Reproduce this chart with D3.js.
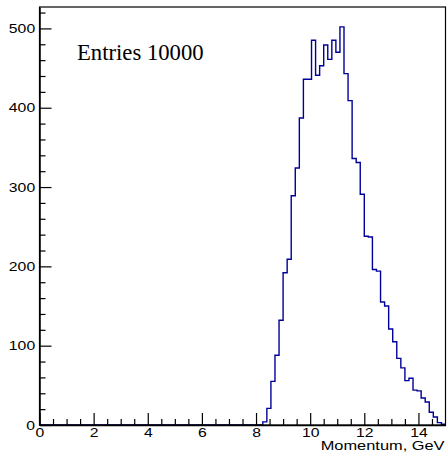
<!DOCTYPE html>
<html>
<head>
<meta charset="utf-8">
<script src="https://cdn.jsdelivr.net/npm/d3@7"></script>
<style>
body { margin: 0; background: #fff; }
svg { display: block; }
</style>
</head>
<body>
<script>
// histogram: 100 bins from 0 to 15 GeV
const xMin = 0
const xMax = 15
const binWidth = 0.15
const counts = [
    0, 0, 0, 0, 0, 0, 0, 0, 0, 0,
    0, 0, 0, 0, 0, 0, 0, 0, 0, 0,
    0, 0, 0, 0, 0, 0, 0, 0, 0, 0,
    0, 0, 0, 0, 0, 0, 0, 0, 0, 0,
    0, 0, 0, 0, 0, 0, 0, 0, 0, 0,
    0, 0, 0, 0, 0, 4, 21, 55, 88, 132,
    192, 209, 289, 324, 387, 436, 436, 485, 441, 453,
    479, 461, 485, 470, 502, 443, 409, 336, 331, 291,
    238, 237, 196, 194, 155, 150, 121, 105, 84, 72,
    56, 59, 44, 43, 34, 29, 16, 10, 3, 1
]
const yMax = 527
const xMajorTicks = [0, 2, 4, 6, 8, 10, 12, 14]
const yMajorTicks = [0, 100, 200, 300, 400, 500]
const entriesLabel = 'Entries 10000'
const xTitle = 'Momentum, GeV'

const width = 448, height = 463
const frame = { left: 39.5, right: 445.5, top: 7, bottom: 425 }

const svg = d3.select('body').append('svg')
    .attr('width', width)
    .attr('height', height)

svg.append('rect')
    .attr('width', width)
    .attr('height', height)
    .attr('fill', '#fff')

const x = d3.scaleLinear().domain([xMin, xMax]).range([frame.left, frame.right])
const y = d3.scaleLinear().domain([0, yMax]).range([frame.bottom, frame.top])

// histogram outline
const points = counts.map((c, i) => [xMin + i * binWidth, c])
points.push([xMax, counts[counts.length - 1]])

const line = d3.line()
    .x(d => x(d[0]))
    .y(d => y(d[1]))
    .curve(d3.curveStepAfter)

svg.append('path')
    .attr('d', line(points))
    .attr('fill', 'none')
    .attr('stroke', '#000099')
    .attr('stroke-width', 1.4)

// frame
svg.append('rect')
    .attr('x', frame.left)
    .attr('y', frame.top)
    .attr('width', frame.right - frame.left)
    .attr('height', frame.bottom - frame.top)
    .attr('fill', 'none')
    .attr('stroke', '#000')
    .attr('stroke-width', 1.2)

const labelFont = '"Liberation Sans", Arial, sans-serif'

// y axis, ticks pointing inwards
const yMinor = d3.range(0, yMax, 20).filter(v => v % 100 !== 0)

svg.append('g')
    .attr('transform', `translate(${frame.left},0)`)
    .call(d3.axisLeft(y).tickValues(yMinor).tickSizeInner(-6).tickSizeOuter(0).tickFormat(''))
    .call(g => g.select('.domain').remove())

const yAxis = svg.append('g')
    .attr('transform', `translate(${frame.left},0)`)
    .call(d3.axisLeft(y).tickValues(yMajorTicks).tickSizeInner(-12).tickSizeOuter(0).tickPadding(3.5).tickFormat(d3.format('d')))

yAxis.select('.domain').attr('stroke-width', 1.5)

// x axis, ticks pointing inwards
const xMinor = d3.range(0, xMax, 0.5).filter(v => v % 2 !== 0)

svg.append('g')
    .attr('transform', `translate(0,${frame.bottom})`)
    .call(d3.axisBottom(x).tickValues(xMinor).tickSizeInner(-6).tickSizeOuter(0).tickFormat(''))
    .call(g => g.select('.domain').remove())

const xAxis = svg.append('g')
    .attr('transform', `translate(0,${frame.bottom})`)
    .call(d3.axisBottom(x).tickValues(xMajorTicks).tickSizeInner(-12).tickSizeOuter(0).tickPadding(3).tickFormat(d3.format('d')))

xAxis.select('.domain').attr('stroke-width', 1.5)

svg.selectAll('.tick line').attr('stroke', '#000').attr('stroke-width', 1.2)

svg.selectAll('.tick text')
    .attr('font-family', labelFont)
    .attr('font-size', 12.6)
    .attr('fill', '#000')
    .attr('transform', 'scale(1.25,1)')

// axis title
svg.append('text')
    .attr('transform', `translate(${frame.right - 1},450) scale(1.3,1)`)
    .attr('text-anchor', 'end')
    .attr('font-family', labelFont)
    .attr('font-size', 12.6)
    .attr('fill', '#000')
    .text(xTitle)

// entries label
svg.append('text')
    .attr('x', 77)
    .attr('y', 60)
    .attr('font-family', '"Liberation Serif", "Times New Roman", serif')
    .attr('font-size', 22.7)
    .attr('fill', '#000')
    .text(entriesLabel)
</script>
</body>
</html>
